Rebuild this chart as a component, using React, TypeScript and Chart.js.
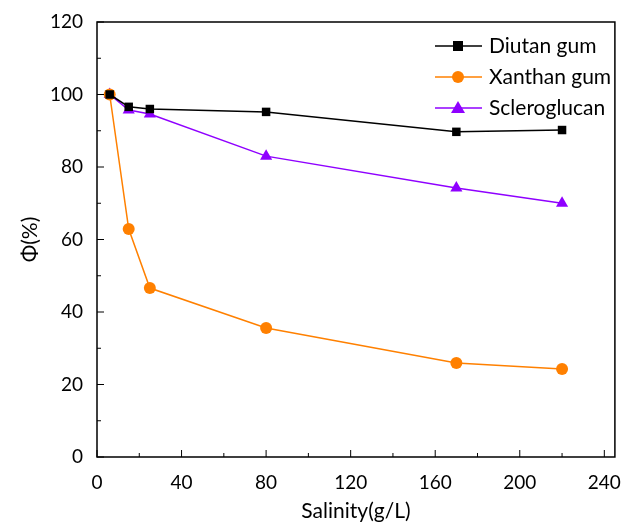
import React, { useEffect, useRef } from "react";
import { Chart, registerables } from "chart.js";
Chart.register(...registerables);

const salinity = [6, 15, 25, 80, 170, 220];
const diutan = [100, 96.6, 96, 95.2, 89.7, 90.2];
const xanthan = [100, 62.9, 46.6, 35.6, 25.9, 24.3];
const scleroglucan = [100, 95.7, 94.6, 83, 74.2, 70];
const seriesNames = ["Diutan gum", "Xanthan gum", "Scleroglucan"];
const seriesColors = ["#000000", "#ff8000", "#8f00ff"];
const seriesMarkers = ["rect", "circle", "triangle"];
const xTicks = [0, 40, 80, 120, 160, 200, 240];
const yTicks = [0, 20, 40, 60, 80, 100, 120];

const FONT = "Lato, 'Open Sans', sans-serif";

const decor = {
  id: "decor",
  afterDraw(chart: any) {
    const ctx = chart.ctx;
    const { left, right, top, bottom } = chart.chartArea;
    const xs = chart.scales.x;
    const ys = chart.scales.y;
    ctx.save();
    ctx.strokeStyle = "#000";
    ctx.lineWidth = 1.5;
    ctx.beginPath();
    ctx.rect(left, top, right - left, bottom - top);
    ctx.stroke();
    ctx.lineWidth = 1;
    ctx.beginPath();
    for (let v = 0; v <= 240; v += 20) {
      const px = xs.getPixelForValue(v);
      const len = v % 40 === 0 ? 7 : 4;
      ctx.moveTo(px, bottom);
      ctx.lineTo(px, bottom - len);
    }
    for (let v = 0; v <= 120; v += 10) {
      const py = ys.getPixelForValue(v);
      const len = v % 20 === 0 ? 7 : 4;
      ctx.moveTo(left, py);
      ctx.lineTo(left + len, py);
    }
    ctx.stroke();
    // legend
    const rows = [46, 77, 108];
    rows.forEach((ry, i) => {
      ctx.strokeStyle = seriesColors[i];
      ctx.fillStyle = seriesColors[i];
      ctx.lineWidth = 1.5;
      ctx.beginPath();
      ctx.moveTo(435, ry);
      ctx.lineTo(482, ry);
      ctx.stroke();
      const cx = 458;
      ctx.beginPath();
      if (seriesMarkers[i] === "rect") {
        ctx.rect(cx - 5, ry - 5, 10, 10);
      } else if (seriesMarkers[i] === "circle") {
        ctx.arc(cx, ry, 6, 0, Math.PI * 2);
      } else {
        ctx.moveTo(cx, ry - 7);
        ctx.lineTo(cx + 7, ry + 5);
        ctx.lineTo(cx - 7, ry + 5);
        ctx.closePath();
      }
      ctx.fill();
      ctx.fillStyle = "#000";
      ctx.font = `21px ${FONT}`;
      ctx.textAlign = "left";
      ctx.textBaseline = "middle";
      ctx.fillText(seriesNames[i], 489, ry);
    });
    ctx.restore();
  },
};

export default function App() {
  const ref = useRef<HTMLCanvasElement>(null);
  useEffect(() => {
    const series = [diutan, xanthan, scleroglucan];
    const chart = new Chart(ref.current!, {
      type: "scatter",
      data: {
        datasets: series.map((vals, i) => ({
          label: seriesNames[i],
          data: salinity.map((x, j) => ({ x, y: vals[j] })),
          showLine: true,
          borderColor: seriesColors[i],
          backgroundColor: seriesColors[i],
          borderWidth: 1.5,
          pointStyle: seriesMarkers[i] as any,
          pointRadius: i === 2 ? 7 : 6,
          pointBorderWidth: 0,
        })),
      },
      options: {
        animation: false,
        responsive: false,
        layout: { padding: { top: 22, right: 1, left: 0, bottom: 0 } },
        plugins: { legend: { display: false }, tooltip: { enabled: false } },
        scales: {
          x: {
            type: "linear",
            min: 0,
            max: 245,
            afterBuildTicks: (s: any) => {
              s.ticks = xTicks.map((v) => ({ value: v }));
            },
            afterFit: (s: any) => {
              s.height = 71;
            },
            grid: { display: false },
            border: { display: false },
            ticks: { color: "#000", font: { size: 19, family: FONT }, padding: 6, maxRotation: 0 },
            title: { display: true, text: "Salinity(g/L)", color: "#000", font: { size: 21, family: FONT }, padding: { top: 16 } },
          },
          y: {
            type: "linear",
            min: 0,
            max: 120,
            afterBuildTicks: (s: any) => {
              s.ticks = yTicks.map((v) => ({ value: v }));
            },
            afterFit: (s: any) => {
              s.width = 97;
            },
            grid: { display: false },
            border: { display: false },
            ticks: { color: "#000", font: { size: 19, family: FONT }, padding: 6 },
            title: { display: true, text: "Φ(%)", color: "#000", font: { size: 21, family: FONT }, padding: { top: 18, bottom: 0 } },
          },
        },
      },
      plugins: [decor],
    });
    return () => chart.destroy();
  }, []);
  return (
    <div style={{ position: "fixed", left: 0, top: 0, width: 627, height: 528, overflow: "hidden", background: "#fff" }}>
      <canvas ref={ref} width={627} height={528} style={{ display: "block" }} />
    </div>
  );
}
